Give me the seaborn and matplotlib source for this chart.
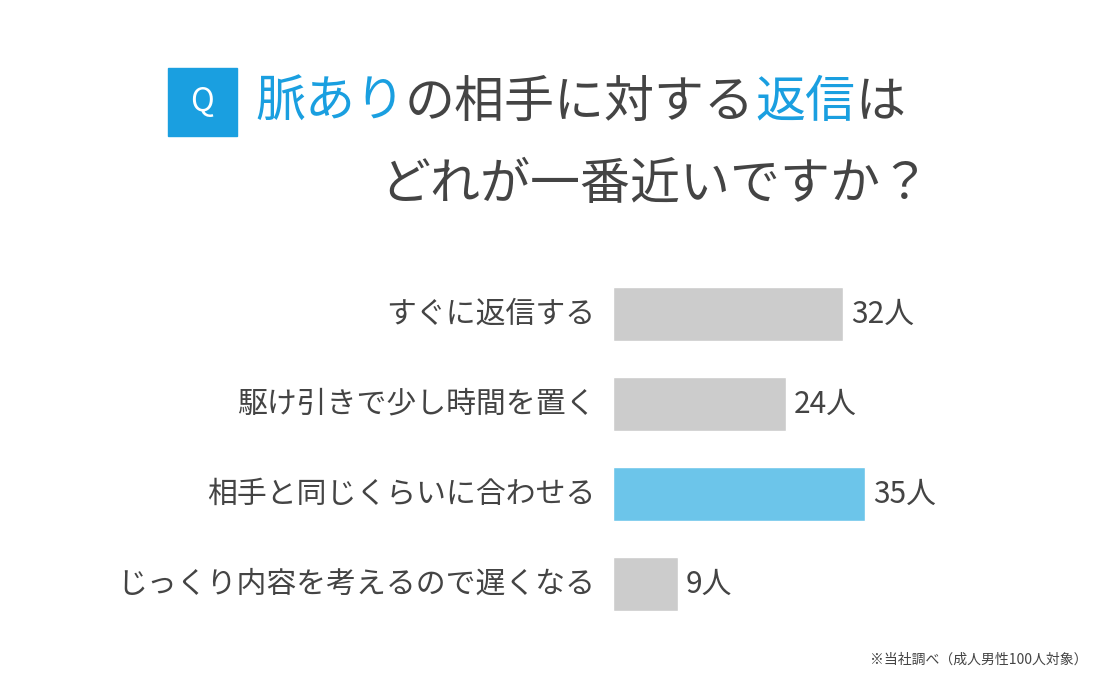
import matplotlib
matplotlib.use('Agg')
import matplotlib.pyplot as plt
import seaborn as sns
import pandas as pd

categories = ['すぐに返信する', '駆け引きで少し時間を置く', '相手と同じくらいに合わせる', 'じっくり内容を考えるので遅くなる']
counts = [32, 24, 35, 9]
bar_colors = ['#cccccc', '#cccccc', '#6cc5ea', '#cccccc']

sns.set_style('white')
plt.rcParams['font.family'] = ['Noto Sans CJK JP', 'DejaVu Sans']

W, H = 1100, 681
fig = plt.figure(figsize=(11, 6.81), dpi=100)
ax = fig.add_axes([613 / W, (H - 629) / H, 288 / W, 360 / H])
df = pd.DataFrame({'cat': categories, 'n': counts})
sns.barplot(data=df, x='n', y='cat', hue='cat', palette=bar_colors, width=0.61,
            legend=False, ax=ax, saturation=1)
ax.set_xlim(0, 40)
ax.set_ylim(3.5, -0.5)
ax.axis('off')
txt = '#444444'
for i, (c, n) in enumerate(zip(categories, counts)):
    ax.text(-2.4, i, c, ha='right', va='center', fontsize=21.5, color=txt)
    ax.text(n + 1.1, i, f'{n}人', ha='left', va='center', fontsize=21.5, color=txt)

# title
blue = '#1a9fe0'
fig.patches.append(plt.Rectangle((168 / W, 1 - 136 / H), 69 / W, 68 / H,
                                 transform=fig.transFigure, color=blue))
fig.text(202 / W, 1 - 102 / H, 'Q', ha='center', va='center', fontsize=23, color='white')
renderer = fig.canvas.get_renderer()
x = 255
for s, col in [('脈あり', blue), ('の相手に対する', txt), ('返信', blue), ('は', txt)]:
    t = fig.text(x / W, 1 - 103 / H, s, ha='left', va='center', fontsize=36, color=col)
    x += t.get_window_extent(renderer).width
fig.text(930 / W, 1 - 185 / H, 'どれが一番近いですか？', ha='right', va='center', fontsize=36, color=txt)
fig.text(1088 / W, 1 - 660 / H, '※当社調べ（成人男性100人対象）', ha='right', va='center', fontsize=10, color=txt)

fig.savefig('out.png', dpi=100, facecolor='white')
